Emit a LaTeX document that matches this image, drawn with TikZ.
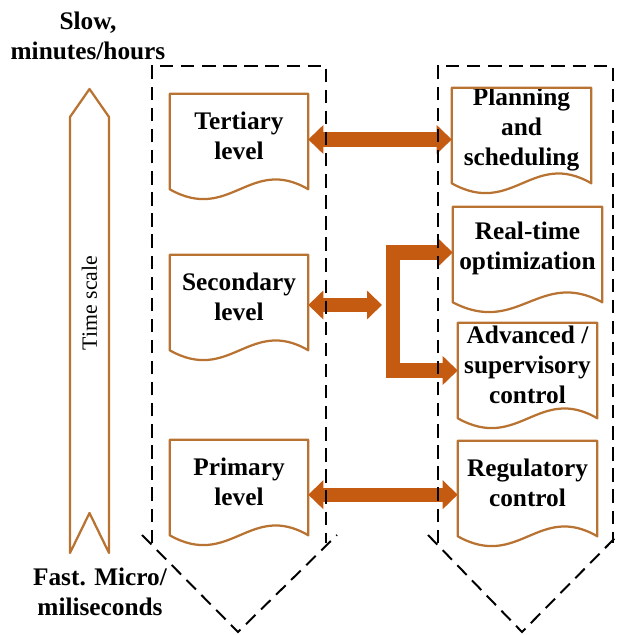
\documentclass[tikz,border=0pt]{standalone}
\usepackage{fontspec}
\setmainfont{Liberation Serif}
\usepackage{xcolor}
\usepackage{tikz}
\usetikzlibrary{arrows.meta,calc}
\definecolor{copper}{HTML}{B87333}
\definecolor{burnt}{HTML}{C55A11}

% document outline with a wavy lower edge, drawn round a named node
\newcommand{\docline}[1]{%
  \draw[docedge] (#1.north west) -- (#1.north east) -- ([yshift=-3mm]#1.south east)
    .. controls ($(#1.south east)!0.42!(#1.south west)+(0,0.55)$)
    and ($(#1.south east)!0.565!(#1.south west)+(0,-1.15)$)
    .. ([yshift=-3mm]#1.south west) -- cycle;}

\begin{document}
\begin{tikzpicture}[
  docbox/.style={inner xsep=2pt, inner ysep=0pt, minimum height=2.075cm,
    align=center, font=\fontsize{18}{21.3}\selectfont\bfseries},
  docedge/.style={draw=copper, line width=1.6pt, line join=round},
  lbl/.style={align=center, font=\fontsize{18}{21}\selectfont\bfseries},
  zone/.style={draw=black, line width=1.4pt, dash pattern=on 9.5pt off 5.5pt},
  barr/.style={draw=burnt, line width=10pt, line join=miter,
    {Triangle[length=0.375cm, width=0.7cm]}-{Triangle[length=0.375cm, width=0.7cm]}},
  arr/.style={draw=burnt, line width=10pt,
    -{Triangle[length=0.375cm, width=0.7cm]}}
]
  \useasboundingbox (0,0) rectangle (15.5,15.875);

  % time scale
  \node[lbl] (slow) at (2.2,14.975) {Slow,\\minutes/hours};
  \node[lbl] (fast) at (2.5,1.075) {Fast. Micro/\\miliseconds};
  \draw[docedge] (1.75,12.95) -- (2.2375,13.65) -- (2.725,12.95) -- (2.725,2.05)
    -- (2.2375,3.05) -- (1.75,2.05) -- cycle;
  \node[rotate=90, font=\fontsize{15.5}{17}\selectfont] (tscale) at (2.2375,8.3) {Time scale};

  % control levels
  \node[docbox, minimum width=3.45cm] (ter) at (5.975,12.4875) {Tertiary\\level};
  \node[docbox, minimum width=3.45cm] (sec) at (5.975,8.4625) {Secondary\\level};
  \node[docbox, minimum width=3.45cm] (pri) at (5.975,3.8375) {Primary\\level};

  % functions
  \node[docbox, minimum width=3.475cm] (plan) at (13.0375,12.6375) {Planning\\and\\scheduling};
  \node[docbox, minimum width=3.725cm] (rto) at (13.1875,9.6625) {Real-time\\optimization};
  \node[docbox, minimum width=3.475cm] (adv) at (13.1875,6.7625) {Advanced /\\supervisory\\control};
  \node[docbox, minimum width=3.475cm] (reg) at (13.1875,3.8125) {Regulatory\\control};

  \docline{ter} \docline{sec} \docline{pri}
  \docline{plan} \docline{rto} \docline{adv} \docline{reg}

  % links
  \coordinate (jn) at (9.55,8.25);
  \coordinate (brk) at (9.825,8.1);
  \draw[barr] ([yshift=-1mm]ter.east) -- ([yshift=-1mm]ter.east -| plan.west);
  \draw[barr] (sec.east |- jn) -- (jn);
  \draw[barr] ([yshift=-1mm]rto.west) -| (brk) |- ([yshift=-1.5mm]adv.west);
  \draw[barr] ([yshift=-3.3mm]pri.east) -- ([yshift=-3.3mm]pri.east -| reg.west);

  % dashed chevrons
  \draw[zone] (3.8,2.3) -- (3.8,14.225) -- (8.15,14.225) -- (8.15,2.3);
  \draw[zone] (3.55,2.5) -- (5.95,0.075) -- (8.425,2.5);
  \draw[zone] (10.95,2.3) -- (10.95,14.225) -- (15.325,14.225) -- (15.325,2.3);
  \draw[zone] (10.7,2.5) -- (13.05,0.075) -- (15.45,2.5);
\end{tikzpicture}
\end{document}
